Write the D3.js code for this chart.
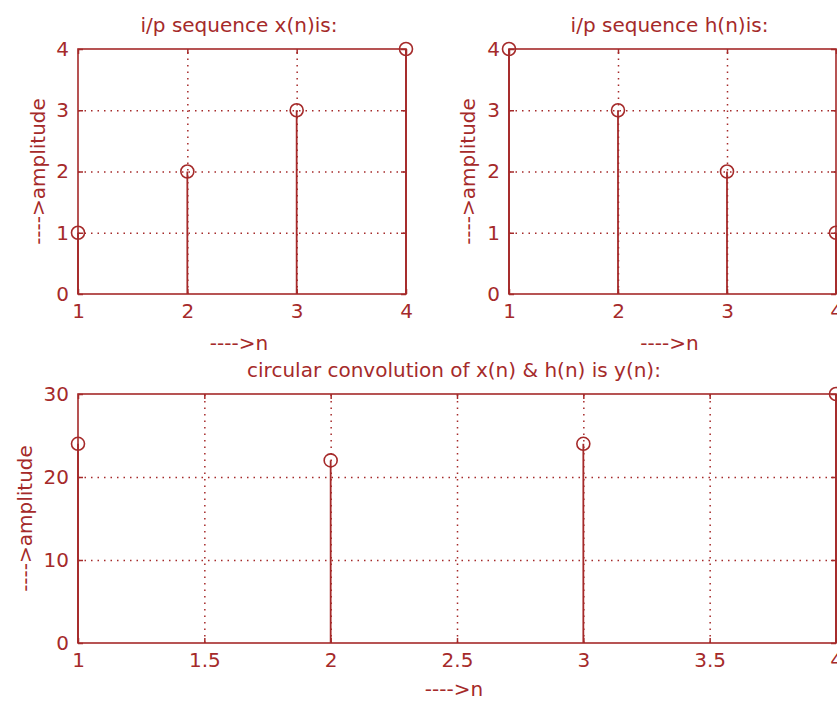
<!DOCTYPE html>
<html>
<head>
<meta charset="utf-8">
<script src="https://cdn.jsdelivr.net/npm/d3@7"></script>
<style>
  body { margin: 0; background: #fff; }
  svg { display: block; }
  text { font-family: "DejaVu Sans", sans-serif; font-size: 20px; fill: #a52a2a; }
  .grid line { stroke: #a52a2a; stroke-width: 1.5; stroke-dasharray: 1.5,5; }
  .grid path, .ticks path { display: none; }
  .ticks line { stroke: #a52a2a; stroke-width: 1.5; }
</style>
</head>
<body>
<div id="chart"></div>
<script>
var width = 837,
    height = 702;

var color = "#a52a2a";

// data
var nValues = [1, 2, 3, 4];
var xSeq = [1, 2, 3, 4];
var hSeq = [4, 3, 2, 1];
var ySeq = [24, 22, 24, 30];

var smallXTicks = [1, 2, 3, 4];
var smallYTicks = [0, 1, 2, 3, 4];
var convXTicks = [1, 1.5, 2, 2.5, 3, 3.5, 4];
var convYTicks = [0, 10, 20, 30];

var svg = d3.select("#chart").append("svg")
    .attr("width", width)
    .attr("height", height);

function stemPlot(cfg) {
    var x = d3.scaleLinear().domain([1, 4]).range([cfg.left, cfg.right]);
    var y = d3.scaleLinear().domain([0, cfg.ymax]).range([cfg.bottom, cfg.top]);
    var h = cfg.bottom - cfg.top,
        w = cfg.right - cfg.left;
    var g = svg.append("g");

    // dotted grid
    g.append("g").attr("class", "grid")
        .attr("transform", "translate(0," + cfg.bottom + ")")
        .call(d3.axisBottom(x).tickValues(cfg.xticks.slice(1, -1)).tickSize(-h).tickFormat(""));
    g.append("g").attr("class", "grid")
        .attr("transform", "translate(" + cfg.left + ",0)")
        .call(d3.axisLeft(y).tickValues(cfg.yticks.slice(1, -1)).tickSize(-w).tickFormat(""));

    // box
    g.append("rect")
        .attr("x", cfg.left).attr("y", cfg.top)
        .attr("width", w).attr("height", h)
        .attr("fill", "none").attr("stroke", color).attr("stroke-width", 1.6);

    // ticks all round
    var bx = g.append("g").attr("class", "ticks")
        .attr("transform", "translate(0," + cfg.bottom + ")")
        .call(d3.axisBottom(x).tickValues(cfg.xticks).tickSizeInner(-5).tickSizeOuter(0)
            .tickFormat(d3.format("")));
    bx.selectAll("text").attr("dy", "0.71em").attr("y", 10);
    g.append("g").attr("class", "ticks")
        .attr("transform", "translate(0," + cfg.top + ")")
        .call(d3.axisTop(x).tickValues(cfg.xticks).tickSizeInner(-5).tickSizeOuter(0).tickFormat(""));
    var ly = g.append("g").attr("class", "ticks")
        .attr("transform", "translate(" + cfg.left + ",0)")
        .call(d3.axisLeft(y).tickValues(cfg.yticks).tickSizeInner(-5).tickSizeOuter(0)
            .tickFormat(d3.format("")));
    ly.selectAll("text").attr("x", -9);
    g.append("g").attr("class", "ticks")
        .attr("transform", "translate(" + cfg.right + ",0)")
        .call(d3.axisRight(y).tickValues(cfg.yticks).tickSizeInner(-5).tickSizeOuter(0).tickFormat(""));
    g.selectAll(".ticks text").attr("fill", color).style("font-size", "20px")
        .style("font-family", "DejaVu Sans");

    // stems
    g.selectAll(".stem").data(cfg.values).enter().append("line")
        .attr("class", "stem")
        .attr("x1", (d, i) => x(nValues[i])).attr("x2", (d, i) => x(nValues[i]))
        .attr("y1", y(0)).attr("y2", d => y(d))
        .attr("stroke", color).attr("stroke-width", 1.8);
    g.selectAll(".mark").data(cfg.values).enter().append("circle")
        .attr("class", "mark")
        .attr("cx", (d, i) => x(nValues[i])).attr("cy", d => y(d))
        .attr("r", 6.5)
        .attr("fill", "none").attr("stroke", color).attr("stroke-width", 1.6);

    // labels
    g.append("text")
        .attr("x", (cfg.left + cfg.right) / 2 - 3).attr("y", cfg.top - 17)
        .attr("text-anchor", "middle")
        .text(cfg.title);
    g.append("text")
        .attr("x", (cfg.left + cfg.right) / 2 - 3).attr("y", cfg.bottom + cfg.xlabelGap)
        .attr("text-anchor", "middle")
        .text("---->n");
    g.append("text")
        .attr("transform", "translate(" + cfg.ylabelX + "," + (cfg.top + cfg.bottom) / 2 + ") rotate(-90)")
        .attr("text-anchor", "middle")
        .text("---->amplitude");
}

stemPlot({ left: 78, right: 406, top: 49, bottom: 294, ymax: 4,
    xticks: smallXTicks, yticks: smallYTicks, values: xSeq,
    title: "i/p sequence x(n)is:", ylabelX: 45, xlabelGap: 56 });

stemPlot({ left: 509, right: 836, top: 49, bottom: 294, ymax: 4,
    xticks: smallXTicks, yticks: smallYTicks, values: hSeq,
    title: "i/p sequence h(n)is:", ylabelX: 475, xlabelGap: 56 });

stemPlot({ left: 78, right: 836, top: 394, bottom: 643, ymax: 30,
    xticks: convXTicks, yticks: convYTicks, values: ySeq,
    title: "circular convolution of x(n) & h(n) is y(n):", ylabelX: 32, xlabelGap: 53 });
</script>
</body>
</html>
